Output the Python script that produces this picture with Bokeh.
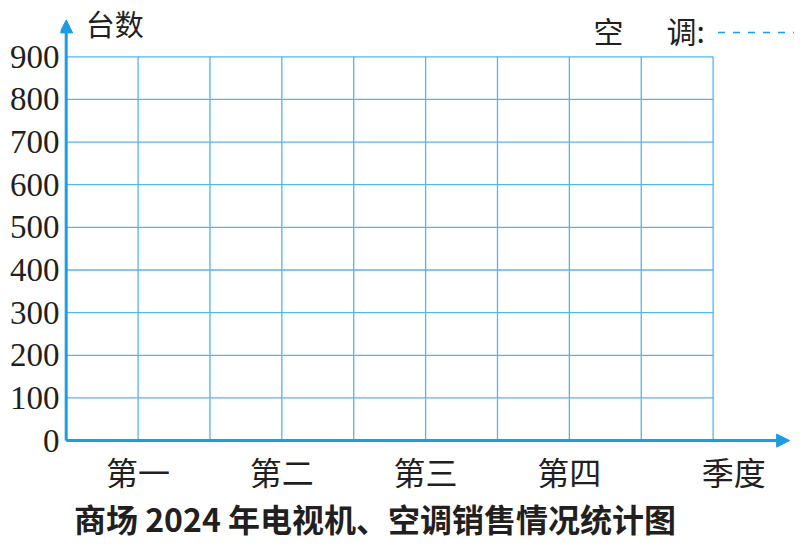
from bokeh.plotting import figure
from bokeh.models import FixedTicker, Arrow, NormalHead
from bokeh.core.properties import value
from bokeh.embed import file_html
from bokeh.resources import INLINE

# ---- data (blank statistics chart) ----
quarters = ["第一", "第二", "第三", "第四"]
quarter_pos = [1, 3, 5, 7]
x_axis_title = "季度"
y_axis_title = "台数"
y_ticks = [0, 100, 200, 300, 400, 500, 600, 700, 800, 900]
grid_cols = [0, 1, 2, 3, 4, 5, 6, 7, 8, 9]
legend_parts = ["空", "调:"]
chart_title = "商场 2024 年电视机、空调销售情况统计图"
tv_sales = []   # left blank in the worksheet
ac_sales = []   # left blank in the worksheet

GRID = "#55b6e8"
AXIS = "#1e9ce2"
INK = "#231f20"
CJK = value("Noto Sans CJK SC")

p = figure(width=794, height=544, x_range=(-0.0793, 10.132), y_range=(-243.7, 1032.0),
           output_backend="svg", toolbar_location=None, x_axis_location=None,
           min_border_left=60, min_border_right=0, min_border_top=0, min_border_bottom=0)
p.grid.visible = False
p.outline_line_color = None

ax = p.yaxis[0]
ax.ticker = FixedTicker(ticks=y_ticks)
ax.axis_line_color = None
ax.major_tick_line_color = None
ax.minor_tick_line_color = None
ax.major_tick_out = 0
ax.major_tick_in = 0
ax.minor_tick_out = 0
ax.minor_tick_in = 0
ax.major_label_standoff = 1
ax.major_label_text_font = "Liberation Serif"
ax.major_label_text_font_size = "33px"
ax.major_label_text_color = INK

# grid
top = y_ticks[-1]
right = grid_cols[-1]
p.segment(x0=grid_cols[1:], y0=0, x1=grid_cols[1:], y1=top, line_color=GRID, line_width=1.3)
p.segment(x0=0, y0=y_ticks[1:], x1=right, y1=y_ticks[1:], line_color=GRID, line_width=1.3)

# axes with arrows
p.add_layout(Arrow(x_start=0, y_start=0, x_end=10.064, y_end=0, line_color=AXIS, line_width=3,
                   end=NormalHead(size=13, fill_color=AXIS, line_color=AXIS)))
p.add_layout(Arrow(x_start=0, y_start=0, x_end=0, y_end=986.5, line_color=AXIS, line_width=3,
                   end=NormalHead(size=13, fill_color=AXIS, line_color=AXIS)))

# category labels
p.text(x=quarter_pos, y=[-70.6] * len(quarters), text=quarters, text_font=CJK,
       text_font_size="32px", text_align="center", text_baseline="middle", text_color=INK)
p.text(x=[9.286], y=[-70.6], text=[x_axis_title], text_font=CJK,
       text_font_size="32px", text_align="center", text_baseline="middle", text_color=INK)
p.text(x=[0.273], y=[980.0], text=[y_axis_title], text_font=CJK,
       text_font_size="29px", text_align="left", text_baseline="middle", text_color=INK)

# legend (air conditioner: dashed line)
p.text(x=[7.337, 8.35], y=[963.8, 963.8], text=legend_parts, text_font=CJK,
       text_font_size="30px", text_align="left", text_baseline="middle", text_color=INK)
p.line(x=[9.068, 10.132], y=[956.8, 956.8], line_color=AXIS, line_width=1.5, line_dash="7 8")

# title
p.text(x=[4.296], y=[-182.7], text=[chart_title], text_font=CJK, text_font_style="bold",
       text_font_size="32px", text_align="center", text_baseline="middle", text_color=INK)

open("out.html", "w").write(file_html(p, INLINE))
